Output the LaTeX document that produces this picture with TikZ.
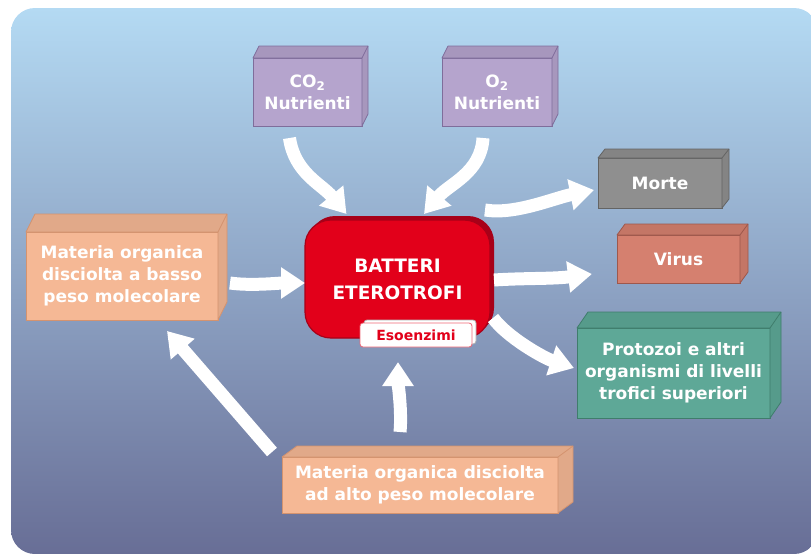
\documentclass[tikz,border=0pt]{standalone}
\usepackage{fontspec}
\setmainfont{DejaVu Sans}
\usetikzlibrary{arrows.meta,calc}
\definecolor{bgtop}{HTML}{B4DAF3}
\definecolor{bgmid}{HTML}{8FA6C8}
\definecolor{bgbot}{HTML}{686E96}
\definecolor{lav}{HTML}{B5A4CD}
\definecolor{lavd}{HTML}{7F6D9B}
\definecolor{grayc}{HTML}{8F8F8F}
\definecolor{grayd}{HTML}{646464}
\definecolor{virc}{HTML}{D5806F}
\definecolor{vird}{HTML}{9E584C}
\definecolor{teal}{HTML}{5EA897}
\definecolor{teald}{HTML}{3F7D6C}
\definecolor{peach}{HTML}{F5B895}
\definecolor{peachd}{HTML}{D4936F}
\definecolor{redc}{HTML}{E2001A}
\definecolor{redd}{HTML}{A80018}
\newcommand{\extrude}[5]{%
  \filldraw[fill=#2!92!black, draw=#3, line width=0.8pt, line join=round]
    (#1.north west) -- ($(#1.north west)+(#4,-#5)$) -- ($(#1.north east)+(#4,-#5)$)
    -- ($(#1.south east)+(#4,-#5)$) -- (#1.south east) -- (#1.north east) -- cycle;
  \draw[#3, line width=0.8pt] (#1.north east) -- ($(#1.north east)+(#4,-#5)$);
}
\begin{document}
\begin{tikzpicture}[x=1pt,y=-1pt,
  cube/.style 2 args={fill=#1, draw=#2, line width=0.8pt, text=white, align=center,
     font=\bfseries\fontsize{17}{22}\selectfont, inner sep=0pt, outer sep=0pt},
  flow/.style={draw=white, line width=13pt, -{Triangle[length=24pt, width=30pt]}}]
\useasboundingbox (0,0) rectangle (811,554);
\shade[top color=bgtop, middle color=bgmid, bottom color=bgbot, rounded corners=24pt]
  (11,8) rectangle (818,554);

% boxes
\node[cube={lav}{lavd}, minimum width=109, minimum height=68] (co2) at (307.5,92) {CO\textsubscript{2}\\Nutrienti};
\node[cube={lav}{lavd}, minimum width=110, minimum height=68] (o2) at (497,92) {O\textsubscript{2}\\Nutrienti};
\node[cube={grayc}{grayd}, minimum width=124, minimum height=50] (morte) at (660,183) {Morte};
\node[cube={virc}{vird}, minimum width=123, minimum height=48] (virus) at (678.5,259) {Virus};
\node[cube={teal}{teald}, minimum width=193, minimum height=90] (proto) at (673.5,373) {Protozoi e altri\\organismi di livelli\\trofici superiori};
\node[cube={peach}{peachd}, minimum width=192, minimum height=88] (lmw) at (122,276) {Materia organica\\disciolta a basso\\peso molecolare};
\node[cube={peach}{peachd}, minimum width=276, minimum height=56] (hmw) at (420,485) {Materia organica disciolta\\ad alto peso molecolare};
\extrude{co2}{lav}{lavd}{6}{12}
\extrude{o2}{lav}{lavd}{6}{12}
\extrude{morte}{grayc}{grayd}{7}{9}
\extrude{virus}{virc}{vird}{8}{11}
\extrude{proto}{teal}{teald}{11}{16}
\extrude{lmw}{peach}{peachd}{9}{18}
\extrude{hmw}{peach}{peachd}{15}{11}

% central node
\fill[redd, rounded corners=26pt] (309,216) rectangle (494,334);
\node[fill=redc, draw=redd, line width=1.2pt, rounded corners=26pt, minimum width=185, minimum height=118,
  text=white, align=center, font=\bfseries\fontsize{18.5}{27}\selectfont, outer sep=0pt] (red) at (397.5,279) {BATTERI\\ETEROTROFI};
\filldraw[fill=white, draw=gray!60, line width=0.8pt, rounded corners=3pt] (364,320) rectangle (476,344);
\node[fill=white, draw=redc!60, line width=0.8pt, rounded corners=3pt, minimum width=112, minimum height=24,
  inner sep=0pt, outer sep=0pt, text=redc, font=\bfseries\fontsize{14}{16}\selectfont] (exo) at (416,335) {Esoenzimi};

% arrows
\draw[flow] ($(co2.south)+(-18,12)$) .. controls +(5,35) and +(-25,-30) .. ($(red.north)+(-51,-6)$);
\draw[flow] ($(o2.south)+(-14,12)$) .. controls +(-2,35) and +(25,-30) .. ($(red.north)+(26.5,-6)$);
\draw[flow] ($(red.north east)+(-5,-10)$) .. controls +(30,5) and +(-40,8) .. ($(morte.west)+(-4,7)$);
\draw[flow] ($(red.east)+(4,1)$) .. controls +(30,-2) and +(-40,5) .. ($(virus.west)+(-25,15)$);
\draw[flow] ($(red.south east)+(3,-20)$) .. controls +(15,20) and +(-30,-10) .. ($(proto.west)+(-3,-5)$);
\draw[flow] ($(lmw.east)+(12,7)$) .. controls +(20,3) and +(-25,0) .. ($(red.west)+(0,4)$);
\draw[flow] ($(hmw.north)+(-20,-25)$) .. controls +(2,-20) and +(0,20) .. ($(exo.south)+(-18,15)$);
\draw[flow] ($(hmw.north west)+(-10,-5)$) -- ($(lmw.south)+(45,11)$);
\end{tikzpicture}
\end{document}
